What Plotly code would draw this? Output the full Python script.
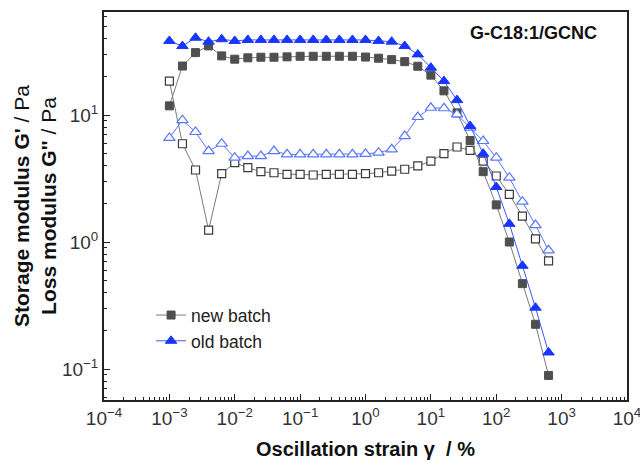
import plotly.graph_objects as go

# strain (%), 5 points per decade from 1e-3 to ~630 %
strain = [10 ** (-3 + 0.2 * i) for i in range(30)]

new_Gp = [11.8, 24.3, 31.0, 35.0, 29.2, 27.5, 28.2, 28.5, 28.5, 28.7,
          29.0, 29.0, 29.0, 29.0, 29.0, 28.6, 28.0, 27.3, 26.3, 24.2,
          20.6, 15.5, 10.4, 6.3, 3.58, 1.96, 1.0, 0.47, 0.225, 0.089]
new_Gpp = [18.5, 5.94, 3.69, 1.24, 3.45, 4.21, 3.85, 3.58, 3.51, 3.41,
           3.41, 3.37, 3.41, 3.41, 3.41, 3.45, 3.51, 3.62, 3.74, 3.97,
           4.34, 4.96, 5.6, 5.27, 4.34, 3.31, 2.37, 1.6, 1.06, 0.71]
old_Gp = [38.3, 34.9, 40.6, 37.8, 39.5, 38.3, 39.0, 39.0, 39.0, 39.0,
          39.0, 39.0, 39.0, 39.0, 39.0, 39.0, 38.3, 37.8, 34.9, 30.0,
          23.6, 18.5, 13.1, 8.2, 4.96, 2.71, 1.39, 0.65, 0.304, 0.135]
old_Gpp = [6.6, 9.1, 7.35, 5.2, 5.94, 4.61, 4.75, 4.75, 5.2, 4.9,
           4.9, 4.9, 4.9, 4.9, 4.9, 4.95, 5.05, 5.37, 6.83, 9.64,
           11.4, 11.3, 10.1, 7.95, 6.24, 4.61, 3.21, 2.08, 1.36, 0.86]

x_tickvals = [1e-4, 1e-3, 1e-2, 1e-1, 1, 10, 100, 1000, 10000]
x_ticktext = ["10<sup>−4</sup>", "10<sup>−3</sup>", "10<sup>−2</sup>", "10<sup>−1</sup>",
              "10<sup>0</sup>", "10<sup>1</sup>", "10<sup>2</sup>", "10<sup>3</sup>", "10<sup>4</sup>"]
y_tickvals = [0.1, 1, 10]
y_ticktext = ["10<sup>−1</sup>", "10<sup>0</sup>", "10<sup>1</sup>"]

FONT = "Arial, Liberation Sans, sans-serif"
GRAY_LINE = "#7a7a7a"
GRAY_MK = "#4f4f4f"
BLUE = "#1836ff"
BLUE_LINE = "#3a58ff"
LBLUE = "#5877ff"

fig = go.Figure()
fig.add_trace(go.Scatter(x=strain, y=new_Gpp, mode="lines+markers", showlegend=False,
                         line=dict(color=GRAY_LINE, width=1),
                         marker=dict(symbol="square", size=8, color="white",
                                     line=dict(color="#3a3a3a", width=1.2))))
fig.add_trace(go.Scatter(x=strain, y=new_Gp, mode="lines+markers", name="new batch",
                         line=dict(color=GRAY_LINE, width=1),
                         marker=dict(symbol="square", size=8, color=GRAY_MK,
                                     line=dict(color=GRAY_MK, width=1))))
fig.add_trace(go.Scatter(x=strain, y=old_Gpp, mode="lines+markers", showlegend=False,
                         line=dict(color=LBLUE, width=1),
                         marker=dict(symbol="triangle-up", size=10, color="white",
                                     line=dict(color=LBLUE, width=1.2))))
fig.add_trace(go.Scatter(x=strain, y=old_Gp, mode="lines+markers", name="old batch",
                         line=dict(color=BLUE_LINE, width=1),
                         marker=dict(symbol="triangle-up", size=10, color=BLUE,
                                     line=dict(color=BLUE, width=1))))

axis_common = dict(type="log", showgrid=False, zeroline=False, showline=True, mirror=True,
                   linecolor="#222", linewidth=2, ticks="inside", ticklen=6, tickwidth=1.2,
                   tickcolor="#222", tickfont=dict(family=FONT, size=19, color="#333"),
                   ticklabeloverflow="allow", automargin=False,
                   minor=dict(ticks="inside", ticklen=3, tickwidth=1, tickcolor="#222",
                              dtick="D1", showgrid=False))

fig.update_xaxes(range=[-4, 4], tickvals=x_tickvals, ticktext=x_ticktext, **axis_common)
fig.update_yaxes(range=[-1.244, 1.811], tickvals=y_tickvals, ticktext=y_ticktext, **axis_common)

fig.add_annotation(text="<b>G-C18:1/GCNC</b>", xref="paper", yref="paper", x=0.947, y=0.946,
                   xanchor="right", yanchor="middle", showarrow=False,
                   font=dict(family=FONT, size=18, color="#111"))
fig.add_annotation(text="<b>Storage modulus G'</b> / Pa<br><b>Loss modulus G''</b> / Pa",
                   xref="paper", yref="paper", x=-0.132, y=0.5, textangle=-90,
                   xanchor="center", yanchor="middle", showarrow=False,
                   font=dict(family=FONT, size=21, color="#111"))
fig.add_annotation(text="<b>Oscillation strain γ  / %</b>", xref="paper", yref="paper",
                   x=0.5, y=-0.126, xanchor="center", yanchor="middle", showarrow=False,
                   font=dict(family=FONT, size=20, color="#111"))

fig.update_layout(
    width=640, height=466,
    margin=dict(l=104, r=13, t=12, b=66, autoexpand=False),
    paper_bgcolor="white", plot_bgcolor="white",
    font=dict(family=FONT, color="#222"),
    legend=dict(x=0.09, y=0.265, xanchor="left", yanchor="top", bgcolor="rgba(0,0,0,0)",
                font=dict(family=FONT, size=17.5, color="#222"),
                tracegroupgap=0),
)

fig.write_html("out.html")
